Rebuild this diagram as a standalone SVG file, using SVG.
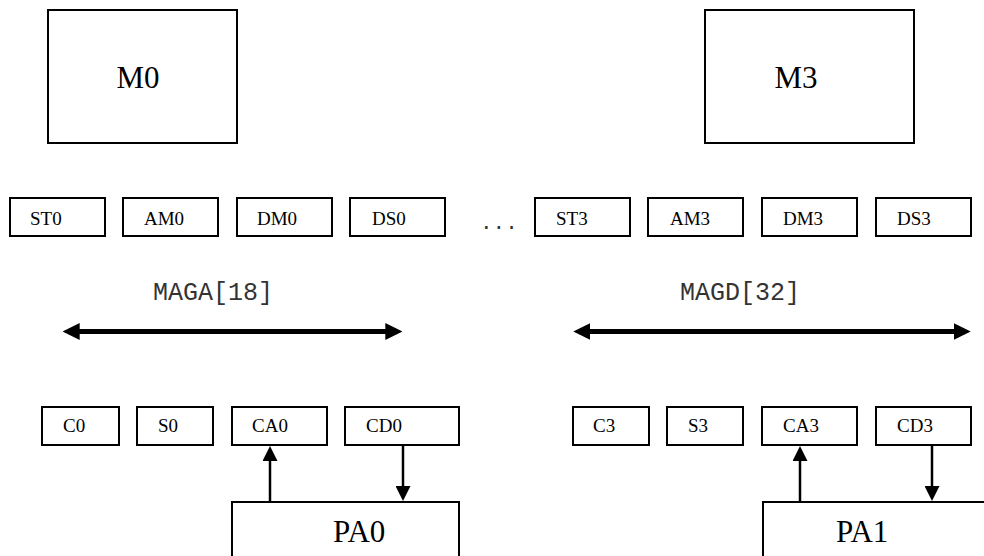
<svg xmlns="http://www.w3.org/2000/svg" width="984" height="556" viewBox="0 0 984 556">
<style>
.box{fill:#fff;stroke:#000;stroke-width:2}
.big{font-family:"Liberation Serif","Times New Roman",serif;font-size:31px;fill:#000}
.lbl{font-family:"Liberation Serif","Times New Roman",serif;font-size:19px;fill:#000}
.mono{font-family:"Liberation Mono","Courier New",monospace;font-size:25px;fill:#333}
.bus{stroke:#000;stroke-width:5;fill:none}
.sig{stroke:#000;stroke-width:2.5;fill:none}
</style>
<defs>
<marker id="bigHead" viewBox="0 0 17 17" markerUnits="userSpaceOnUse" markerWidth="17" markerHeight="17" refX="2" refY="8.5" orient="auto-start-reverse">
<path d="M0,0 L17,8.5 L0,17 z" fill="#000"/>
</marker>
<marker id="smallHead" viewBox="0 0 15 15" markerUnits="userSpaceOnUse" markerWidth="15" markerHeight="15" refX="2" refY="7.5" orient="auto">
<path d="M0,0 L15,7.5 L0,15 z" fill="#000"/>
</marker>
</defs>

<g id="M0"><rect class="box" x="48" y="10" width="189" height="133"/><text class="big" x="138" y="88" text-anchor="middle">M0</text></g>
<g id="M3"><rect class="box" x="705" y="10" width="209" height="133"/><text class="big" x="796" y="88" text-anchor="middle">M3</text></g>

<g id="ST0"><rect class="box" x="10" y="198" width="95" height="38"/><text class="lbl" x="30" y="225">ST0</text></g>
<g id="AM0"><rect class="box" x="123" y="198" width="95" height="38"/><text class="lbl" x="144" y="225">AM0</text></g>
<g id="DM0"><rect class="box" x="237" y="198" width="95" height="38"/><text class="lbl" x="257" y="225">DM0</text></g>
<g id="DS0"><rect class="box" x="350" y="198" width="95" height="38"/><text class="lbl" x="372" y="225">DS0</text></g>

<g id="ellipsis"><text x="480" y="229" font-family="Liberation Mono, monospace" font-size="21" fill="#333">...</text></g>

<g id="ST3"><rect class="box" x="535" y="198" width="95" height="38"/><text class="lbl" x="556" y="225">ST3</text></g>
<g id="AM3"><rect class="box" x="648" y="198" width="95" height="38"/><text class="lbl" x="670" y="225">AM3</text></g>
<g id="DM3"><rect class="box" x="762" y="198" width="95" height="38"/><text class="lbl" x="783" y="225">DM3</text></g>
<g id="DS3"><rect class="box" x="876" y="198" width="95" height="38"/><text class="lbl" x="897" y="225">DS3</text></g>

<g id="MAGA"><text class="mono" x="153" y="300">MAGA[18]</text></g>
<g id="MAGD"><text class="mono" x="680" y="300">MAGD[32]</text></g>

<g id="C0"><rect class="box" x="42" y="407" width="77" height="38"/><text class="lbl" x="63" y="432">C0</text></g>
<g id="S0"><rect class="box" x="137" y="407" width="76" height="38"/><text class="lbl" x="158" y="432">S0</text></g>
<g id="CA0"><rect class="box" x="232" y="407" width="95" height="38"/><text class="lbl" x="252" y="432">CA0</text></g>
<g id="CD0"><rect class="box" x="345" y="407" width="114" height="38"/><text class="lbl" x="366" y="432">CD0</text></g>

<g id="C3"><rect class="box" x="573" y="407" width="76" height="38"/><text class="lbl" x="593" y="432">C3</text></g>
<g id="S3"><rect class="box" x="667" y="407" width="76" height="38"/><text class="lbl" x="688" y="432">S3</text></g>
<g id="CA3"><rect class="box" x="762" y="407" width="95" height="38"/><text class="lbl" x="783" y="432">CA3</text></g>
<g id="CD3"><rect class="box" x="876" y="407" width="95" height="38"/><text class="lbl" x="897" y="432">CD3</text></g>

<g id="PA0"><rect class="box" x="232" y="502" width="227" height="80"/><text class="big" x="333" y="542">PA0</text></g>
<g id="PA1"><rect class="box" x="763" y="502" width="260" height="80"/><text class="big" x="836" y="542">PA1</text></g>

<g id="connectors">
<line class="bus" x1="77.7" y1="331.5" x2="387.3" y2="331.5" marker-start="url(#bigHead)" marker-end="url(#bigHead)"/>
<line class="bus" x1="588.3" y1="331.5" x2="955.7" y2="331.5" marker-start="url(#bigHead)" marker-end="url(#bigHead)"/>
<line class="sig" x1="270" y1="501" x2="270" y2="459" marker-end="url(#smallHead)"/>
<line class="sig" x1="403" y1="446" x2="403" y2="488" marker-end="url(#smallHead)"/>
<line class="sig" x1="800" y1="501" x2="800" y2="459" marker-end="url(#smallHead)"/>
<line class="sig" x1="932" y1="446" x2="932" y2="488" marker-end="url(#smallHead)"/>
</g>
</svg>
